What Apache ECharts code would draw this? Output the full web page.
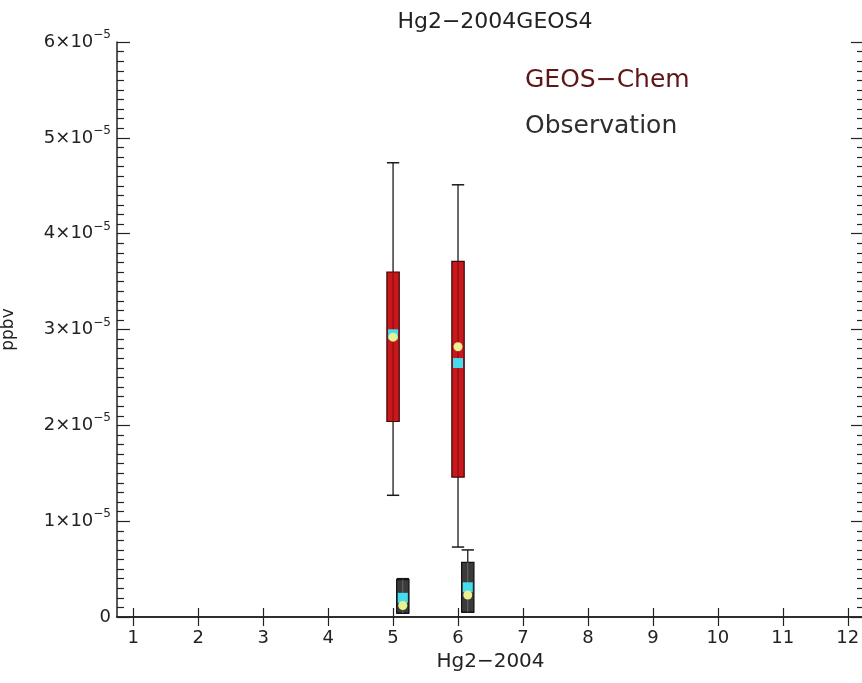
<!DOCTYPE html>
<html>
<head>
<meta charset="utf-8">
<title>Hg2-2004GEOS4</title>
<script src="https://cdn.jsdelivr.net/npm/echarts@6/dist/echarts.min.js"></script>
<style>
  html, body { margin: 0; padding: 0; background: #ffffff; }
  #chart { width: 862px; height: 683px; }
</style>
</head>
<body>
<div id="chart"></div>
<script>
// Month ticks along the x axis
const monthTicks = [1, 2, 3, 4, 5, 6, 7, 8, 9, 10, 11, 12];

// GEOS-Chem box statistics (ppbv)
const geosX      = [5, 6];
const geosLow    = [1.27e-5, 0.73e-5];
const geosQ1     = [2.04e-5, 1.46e-5];
const geosQ3     = [3.60e-5, 3.71e-5];
const geosHigh   = [4.74e-5, 4.51e-5];
const geosMean   = [2.95e-5, 2.65e-5];
const geosMedian = [2.92e-5, 2.82e-5];

// Observation box statistics (ppbv), drawn slightly right of the month
const obsX      = [5.15, 6.15];
const obsLow    = [0.04e-5, 0.05e-5];
const obsQ1     = [0.04e-5, 0.05e-5];
const obsQ3     = [0.39e-5, 0.57e-5];
const obsHigh   = [0.40e-5, 0.70e-5];
const obsMean   = [0.20e-5, 0.31e-5];
const obsMedian = [0.12e-5, 0.23e-5];

const FONT = '"DejaVu Sans", sans-serif';
const INK = '#222222';

function boxRows(xs, lo, q1, q3, hi) {
  return xs.map((x, i) => [x, lo[i], q1[i], q3[i], hi[i]]);
}
function pointRows(xs, vals) {
  return xs.map((x, i) => [x, vals[i]]);
}

// Box with whiskers, end caps and a centre stripe
function makeBoxRenderer(fill, border, stripe, whisker) {
  return function (params, api) {
    const x = api.value(0);
    const pLow = api.coord([x, api.value(1)]);
    const pQ1 = api.coord([x, api.value(2)]);
    const pQ3 = api.coord([x, api.value(3)]);
    const pHigh = api.coord([x, api.value(4)]);
    const w = api.size([0.19, 0])[0];
    const cx = pLow[0];
    return {
      type: 'group',
      children: [
        { type: 'line', shape: { x1: cx, y1: pHigh[1], x2: cx, y2: pLow[1] },
          style: { stroke: whisker, lineWidth: 1.3 } },
        { type: 'line', shape: { x1: cx - w / 2, y1: pHigh[1], x2: cx + w / 2, y2: pHigh[1] },
          style: { stroke: whisker, lineWidth: 1.5 } },
        { type: 'line', shape: { x1: cx - w / 2, y1: pLow[1], x2: cx + w / 2, y2: pLow[1] },
          style: { stroke: whisker, lineWidth: 1.5 } },
        { type: 'rect', shape: { x: cx - w / 2, y: pQ3[1], width: w, height: pQ1[1] - pQ3[1] },
          style: { fill: fill, stroke: border, lineWidth: 1.2 } },
        { type: 'line', shape: { x1: cx, y1: pQ3[1], x2: cx, y2: pQ1[1] },
          style: { stroke: stripe, lineWidth: 1 } }
      ]
    };
  };
}

function yLabel(v) {
  const n = Math.round(v / 1e-5);
  if (n === 0) return '{m|0}';
  return '{m|' + n + '×10}{s|−5}';
}

const chart = echarts.init(document.getElementById('chart'), null, { renderer: 'canvas' });

const tickBase = {
  type: 'value', min: 0.75, max: 12.25,
  axisLine: { show: true, lineStyle: { color: INK, width: 1.5 } },
  splitLine: { show: false }
};

const yBase = {
  type: 'value', min: 0, max: 6e-5, interval: 1e-5,
  axisLine: { show: true, lineStyle: { color: INK, width: 1.5 } },
  axisTick: { show: true, inside: true, length: 13, lineStyle: { color: INK, width: 1.2 } },
  minorTick: { show: true, splitNumber: 10, length: 7, lineStyle: { color: INK, width: 1.2 } },
  splitLine: { show: false },
  minorSplitLine: { show: false }
};

chart.setOption({
  animation: false,
  backgroundColor: '#ffffff',
  title: {
    text: 'Hg2−2004GEOS4',
    left: 490, top: 6, textAlign: 'center',
    textStyle: { fontFamily: FONT, fontSize: 22, fontWeight: 'normal', color: INK }
  },
  grid: { left: 117, right: -2, top: 42, bottom: 66, containLabel: false, outerBoundsMode: 'none' },
  xAxis: [
    Object.assign({}, tickBase, {
      position: 'bottom',
      name: 'Hg2−2004', nameLocation: 'middle', nameGap: 34,
      nameTextStyle: { fontFamily: FONT, fontSize: 20, color: INK },
      axisTick: { show: true, inside: true, length: 9, customValues: monthTicks,
                  lineStyle: { color: INK, width: 1.2 } },
      axisLabel: { show: true, customValues: monthTicks, margin: 12,
                   fontFamily: FONT, fontSize: 18, color: INK }
    }),
    Object.assign({}, tickBase, {
      position: 'top',
      axisTick: { show: true, inside: true, length: 9, customValues: monthTicks,
                  lineStyle: { color: INK, width: 1.2 } },
      axisLabel: { show: false }
    })
  ],
  yAxis: [
    Object.assign({}, yBase, {
      position: 'left',
      name: 'ppbv', nameLocation: 'middle', nameGap: 100, nameRotate: 90,
      nameTextStyle: { fontFamily: FONT, fontSize: 17, color: INK },
      axisLabel: {
        show: true, margin: 6, formatter: yLabel,
        rich: {
          m: { fontFamily: FONT, fontSize: 18, color: INK },
          s: { fontFamily: FONT, fontSize: 12, color: INK, padding: [0, 0, 14, 0] }
        }
      }
    }),
    Object.assign({}, yBase, {
      position: 'right',
      axisLabel: { show: false }
    })
  ],
  graphic: [
    { type: 'text', left: 525, top: 68,
      style: { text: 'GEOS−Chem', fontFamily: FONT, fontSize: 25, fill: '#5e1616' } },
    { type: 'text', left: 525, top: 114,
      style: { text: 'Observation', fontFamily: FONT, fontSize: 25, fill: '#2e2e2e' } }
  ],
  series: [
    {
      name: 'GEOS-Chem', type: 'custom', z: 2,
      renderItem: makeBoxRenderer('#c8181c', '#3a0606', '#7e0c0e', '#1a1a1a'),
      encode: { x: 0, y: [1, 2, 3, 4] },
      data: boxRows(geosX, geosLow, geosQ1, geosQ3, geosHigh)
    },
    {
      name: 'Observation', type: 'custom', z: 2,
      renderItem: makeBoxRenderer('#3a3a3a', '#111111', '#6a6a6a', '#1a1a1a'),
      encode: { x: 0, y: [1, 2, 3, 4] },
      data: boxRows(obsX, obsLow, obsQ1, obsQ3, obsHigh)
    },
    {
      name: 'GEOS-Chem mean', type: 'scatter', z: 3, symbol: 'rect', symbolSize: 10,
      itemStyle: { color: '#46dcf0', opacity: 1 },
      data: pointRows(geosX, geosMean)
    },
    {
      name: 'Observation mean', type: 'scatter', z: 3, symbol: 'rect', symbolSize: 10,
      itemStyle: { color: '#46dcf0', opacity: 1 },
      data: pointRows(obsX, obsMean)
    },
    {
      name: 'GEOS-Chem median', type: 'scatter', z: 4, symbol: 'circle', symbolSize: 9,
      itemStyle: { color: '#eaf290', opacity: 1 },
      data: pointRows(geosX, geosMedian)
    },
    {
      name: 'Observation median', type: 'scatter', z: 4, symbol: 'circle', symbolSize: 9,
      itemStyle: { color: '#eaf290', opacity: 1 },
      data: pointRows(obsX, obsMedian)
    }
  ]
});
</script>
</body>
</html>
